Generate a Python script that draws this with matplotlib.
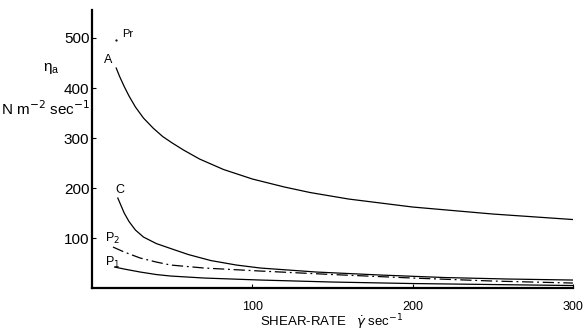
import matplotlib.pyplot as plt

plt.rcParams['font.family'] = ['Liberation Sans', 'DejaVu Sans']

# values
shear_a = [15, 17, 20, 23, 27, 32, 38, 44, 50, 57, 67, 82, 100, 120, 136, 160, 200, 250, 300]
visc_a = [440, 424, 403, 384, 362, 340, 320, 303, 290, 276, 258, 237, 218, 202, 191, 178, 162, 148, 137]

shear_c = [16, 18, 20, 23, 27, 32, 40, 49, 60, 74, 90, 105, 140, 180, 220, 260, 300]
visc_c = [180, 165, 150, 133, 116, 102, 89, 79, 67, 55, 46, 40, 32, 26, 21, 18, 16]

shear_p2 = [13, 20, 30, 40, 49, 70, 105, 150, 200, 250, 300]
visc_p2 = [82, 72, 60, 52, 46, 40, 34, 27, 20, 14, 10]

shear_p1 = [14, 20, 30, 40, 49, 70, 105, 150, 200, 250, 300]
visc_p1 = [42, 38, 32, 27, 24, 20, 16, 12, 9, 7, 5]

x_ticks = [100, 200, 300]
y_ticks = [100, 200, 300, 400, 500]

fig = plt.figure(figsize=(5.87, 3.33), dpi=100)
ax = fig.add_axes([0.157, 0.135, 0.819, 0.835])

ax.plot(shear_a, visc_a, color='black', lw=0.9)
ax.plot(shear_c, visc_c, color='black', lw=0.9)
ax.plot(shear_p2, visc_p2, color='black', lw=0.9, linestyle=(0, (9, 3, 1.5, 3)))
ax.plot(shear_p1, visc_p1, color='black', lw=0.9)

# curve labels
ax.text(10, 456, 'A', fontsize=9, ha='center', va='center')
ax.text(17.5, 196, 'C', fontsize=9, ha='center', va='center')
ax.text(12.5, 100, 'P$_2$', fontsize=9, ha='center', va='center')
ax.text(13, 52, 'P$_1$', fontsize=9, ha='center', va='center')
ax.text(22, 508, 'Pr', fontsize=8, ha='center', va='center')
ax.plot([15], [496], marker='.', color='black', ms=1.2)

ax.set_xlim(0, 300)
ax.set_ylim(0, 556)
ax.set_xticks(x_ticks)
ax.set_yticks(y_ticks)
ax.tick_params(axis='x', labelsize=9, direction='in', length=3, pad=9)
ax.tick_params(axis='y', labelsize=11, direction='in', length=3, pad=2)

for side in ['top', 'right']:
    ax.spines[side].set_visible(False)
for side in ['left', 'bottom']:
    ax.spines[side].set_linewidth(1.6)

fig.text(0.088, 0.795, r'$\mathregular{\eta_a}$', fontsize=11, ha='center', va='center')
fig.text(0.077, 0.675, r'N m$^{-2}$ sec$^{-1}$', fontsize=11, ha='center', va='center')
fig.text(0.565, 0.033, r'SHEAR-RATE   $\dot{\gamma}$ sec$^{-1}$', fontsize=9.5,
         ha='center', va='center')

plt.savefig('out.png', dpi=100)
